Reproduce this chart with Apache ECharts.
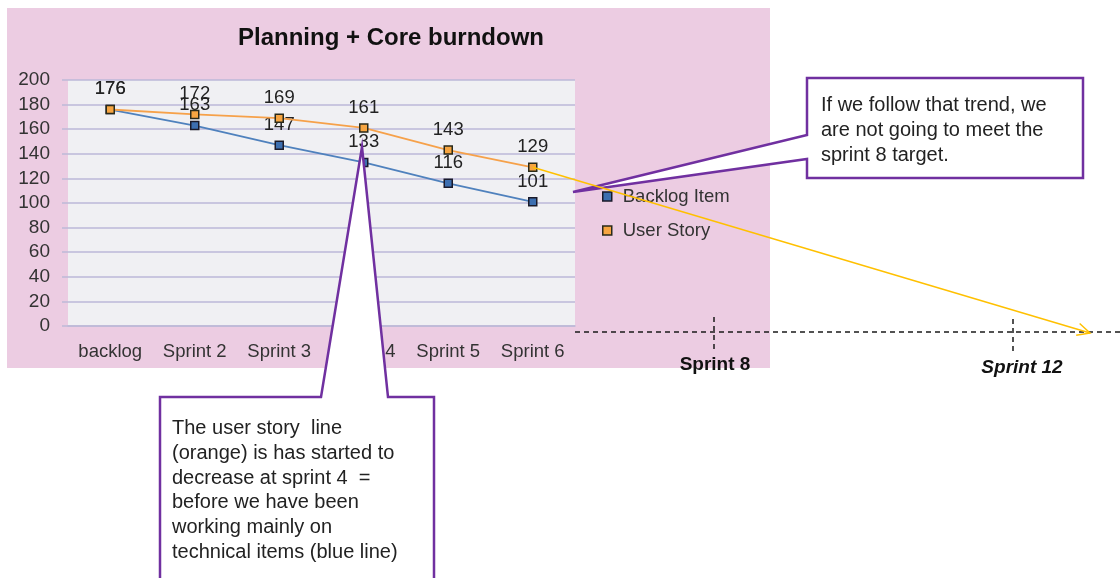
<!DOCTYPE html>
<html>
<head>
<meta charset="utf-8">
<script src="https://cdn.jsdelivr.net/npm/echarts@6/dist/echarts.min.js"></script>
<style>
  html, body { margin: 0; padding: 0; background: #ffffff; }
  #chart { width: 1120px; height: 578px; }
</style>
</head>
<body>
<div id="chart"></div>
<script>
// Burndown data per sprint
const categories = ['backlog', 'Sprint 2', 'Sprint 3', 'Sprint 4', 'Sprint 5', 'Sprint 6'];
const backlogItem = [176, 163, 147, 133, 116, 101];
const userStory = [176, 172, 169, 161, 143, 129];

// Notes and future sprint markers
const trendNote = ['If we follow that trend, we', 'are not going to meet the', 'sprint 8 target.'];
const storyNote = [
  'The user story  line',
  '(orange) is has started to',
  'decrease at sprint 4  =',
  'before we have been',
  'working mainly on',
  'technical items (blue line)'
];
const futureSprints = ['Sprint 8', 'Sprint 12'];

const FONT = '"Liberation Sans", Arial, sans-serif';
const BLUE_LINE = '#4f81bd';
const BLUE_MARK = '#3d6fb0';
const ORANGE_LINE = '#f6a14a';
const ORANGE_MARK = '#f7a541';
const GRID = '#bdb9d8';
const PURPLE = '#7030a0';

const chart = echarts.init(document.getElementById('chart'), null, { renderer: 'canvas' });

function baseGraphics() {
  return [
    // pink chart panel
    { type: 'rect', z: -10, shape: { x: 7, y: 8, width: 763, height: 360 }, style: { fill: '#eccce2' } }
  ];
}

chart.setOption({
  backgroundColor: '#ffffff',
  animation: false,
  title: {
    text: 'Planning + Core burndown',
    left: 233, top: 21,
    textStyle: { fontFamily: FONT, fontSize: 24, fontWeight: 'bold', color: '#111' }
  },
  grid: {
    left: 68, right: 545, top: 80, bottom: 252,
    show: true, backgroundColor: '#f0f0f3', borderWidth: 0
  },
  legend: {
    orient: 'vertical', left: 597, top: 182, itemGap: 15,
    itemWidth: 9, itemHeight: 9,
    textStyle: { fontFamily: FONT, fontSize: 18.5, color: '#333', padding: [0, 0, 0, 6] },
    data: [
      { name: 'Backlog Item', icon: 'rect', itemStyle: { color: BLUE_MARK, borderColor: '#1a1a2a', borderWidth: 1.5 } },
      { name: 'User Story', icon: 'rect', itemStyle: { color: ORANGE_MARK, borderColor: '#2a2a1a', borderWidth: 1.5 } }
    ]
  },
  xAxis: {
    type: 'category', data: categories, boundaryGap: true,
    axisLine: { lineStyle: { color: GRID, width: 1.5 } },
    axisTick: { show: false },
    axisLabel: { fontFamily: FONT, fontSize: 18.5, color: '#333', margin: 16 }
  },
  yAxis: {
    type: 'value', min: 0, max: 200, interval: 20,
    axisLine: { show: false },
    axisTick: { show: true, length: 6, lineStyle: { color: GRID, width: 1.5 } },
    splitLine: { lineStyle: { color: GRID, width: 1.5 } },
    axisLabel: { fontFamily: FONT, fontSize: 19, color: '#333', margin: 18 }
  },
  series: [
    {
      name: 'Backlog Item', type: 'line', data: backlogItem,
      symbol: 'rect', symbolSize: 8,
      lineStyle: { color: BLUE_LINE, width: 1.8 },
      itemStyle: { color: BLUE_MARK, borderColor: '#1a1a2a', borderWidth: 1.5 },
      label: { show: true, position: 'top', distance: 6, fontFamily: FONT, fontSize: 18.5, color: '#222' },
      z: 3
    },
    {
      name: 'User Story', type: 'line', data: userStory,
      symbol: 'rect', symbolSize: 8,
      lineStyle: { color: ORANGE_LINE, width: 1.8 },
      itemStyle: { color: ORANGE_MARK, borderColor: '#2a2a1a', borderWidth: 1.5 },
      label: { show: true, position: 'top', distance: 6, fontFamily: FONT, fontSize: 18.5, color: '#222' },
      z: 4
    }
  ],
  graphic: baseGraphics()
});

// Projection arrow starts at the last user story point
const last = userStory.length - 1;
const start = chart.convertToPixel({ seriesIndex: 1 }, [last, userStory[last]]);
const arrowEnd = [1090, 333];
const ang = Math.atan2(arrowEnd[1] - start[1], arrowEnd[0] - start[0]);
const headLen = 14, headAng = 0.45;
const head = [
  [arrowEnd[0] - headLen * Math.cos(ang - headAng), arrowEnd[1] - headLen * Math.sin(ang - headAng)],
  arrowEnd,
  [arrowEnd[0] - headLen * Math.cos(ang + headAng), arrowEnd[1] - headLen * Math.sin(ang + headAng)]
];

const dashStyle = { stroke: '#1a1a1a', lineWidth: 1.5, lineDash: [5, 4] };

const notes = [
  // extended zero line and future sprint ticks
  { type: 'line', z: 50, shape: { x1: 575, y1: 332, x2: 1120, y2: 332 }, style: dashStyle },
  { type: 'line', z: 50, shape: { x1: 714, y1: 317, x2: 714, y2: 350 }, style: dashStyle },
  { type: 'line', z: 50, shape: { x1: 1013, y1: 319, x2: 1013, y2: 352 }, style: dashStyle },
  {
    type: 'text', z: 50,
    style: { text: futureSprints[0], x: 715, y: 365, align: 'center', verticalAlign: 'middle',
      fontFamily: FONT, fontSize: 19, fontWeight: 'bold', fill: '#111' }
  },
  {
    type: 'text', z: 50,
    style: { text: futureSprints[1], x: 1022, y: 368, align: 'center', verticalAlign: 'middle',
      fontFamily: FONT, fontSize: 19, fontWeight: 'bold', fontStyle: 'italic', fill: '#111' }
  },
  // callout: trend note
  {
    type: 'polygon', z: 60,
    shape: { points: [[807, 78], [1083, 78], [1083, 178], [807, 178], [807, 159], [573, 192], [807, 135]] },
    style: { fill: '#ffffff', stroke: PURPLE, lineWidth: 2.5, lineJoin: 'miter' }
  },
  {
    type: 'text', z: 61,
    style: { text: trendNote.join('\n'), x: 821, y: 93, lineHeight: 25,
      fontFamily: FONT, fontSize: 20, fill: '#222' }
  },
  // callout: user story note
  {
    type: 'polygon', z: 60,
    shape: { points: [[160, 397], [321, 397], [362, 147], [388, 397], [434, 397], [434, 600], [160, 600]] },
    style: { fill: '#ffffff', stroke: PURPLE, lineWidth: 2.5, lineJoin: 'miter' }
  },
  {
    type: 'text', z: 61,
    style: { text: storyNote.join('\n'), x: 172, y: 416, lineHeight: 24.8,
      fontFamily: FONT, fontSize: 20, fill: '#222' }
  },
  // projection arrow
  { type: 'line', z: 70, shape: { x1: start[0], y1: start[1], x2: arrowEnd[0], y2: arrowEnd[1] },
    style: { stroke: '#ffc000', lineWidth: 1.5 } },
  { type: 'polyline', z: 70, shape: { points: head }, style: { stroke: '#ffc000', lineWidth: 1.5, fill: null } }
];

chart.setOption({ graphic: baseGraphics().concat(notes) }, { replaceMerge: ['graphic'] });
</script>
</body>
</html>
